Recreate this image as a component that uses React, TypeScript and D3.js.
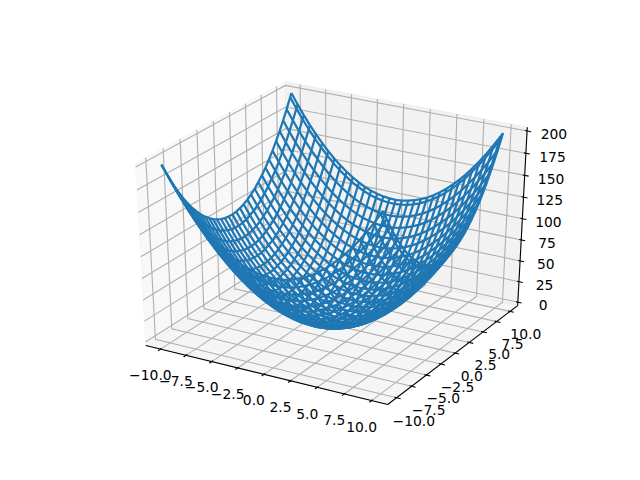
import React from "react";
import * as d3 from "d3";

const xGrid = [-10,-9.4,-8.8,-8.2,-7.6,-7,-6.4,-5.8,-5.2,-4.6,-4,-3.4,-2.8,-2.2,-1.6,-1,-0.4,0.2,0.8,1.4,2,2.6,3.2,3.8,4.4,5,5.6,6.2,6.8,7.4,8,8.6,9.2,9.8,10];
const yGrid = [-10,-9.4,-8.8,-8.2,-7.6,-7,-6.4,-5.8,-5.2,-4.6,-4,-3.4,-2.8,-2.2,-1.6,-1,-0.4,0.2,0.8,1.4,2,2.6,3.2,3.8,4.4,5,5.6,6.2,6.8,7.4,8,8.6,9.2,9.8,10];
const zRows = [
[200,188.4,177.4,167.2,157.8,149,141,133.6,127,121.2,116,111.6,107.8,104.8,102.6,101,100.2,100,100.6,102,104,106.8,110.2,114.4,119.4,125,131.4,138.4,146.2,154.8,164,174,184.6,196,200],
[188.4,176.8,165.8,155.6,146.2,137.4,129.4,122,115.4,109.6,104.4,100,96.2,93.2,91,89.4,88.6,88.4,89,90.4,92.4,95.2,98.6,102.8,107.8,113.4,119.8,126.8,134.6,143.2,152.4,162.4,173,184.4,188.4],
[177.4,165.8,154.8,144.6,135.2,126.4,118.4,111,104.4,98.6,93.4,89,85.2,82.2,80,78.4,77.6,77.4,78,79.4,81.4,84.2,87.6,91.8,96.8,102.4,108.8,115.8,123.6,132.2,141.4,151.4,162,173.4,177.4],
[167.2,155.6,144.6,134.4,125,116.2,108.2,100.8,94.2,88.4,83.2,78.8,75,72,69.8,68.2,67.4,67.2,67.8,69.2,71.2,74,77.4,81.6,86.6,92.2,98.6,105.6,113.4,122,131.2,141.2,151.8,163.2,167.2],
[157.8,146.2,135.2,125,115.6,106.8,98.8,91.4,84.8,79,73.8,69.4,65.6,62.6,60.4,58.8,58,57.8,58.4,59.8,61.8,64.6,68,72.2,77.2,82.8,89.2,96.2,104,112.6,121.8,131.8,142.4,153.8,157.8],
[149,137.4,126.4,116.2,106.8,98,90,82.6,76,70.2,65,60.6,56.8,53.8,51.6,50,49.2,49,49.6,51,53,55.8,59.2,63.4,68.4,74,80.4,87.4,95.2,103.8,113,123,133.6,145,149],
[141,129.4,118.4,108.2,98.8,90,82,74.6,68,62.2,57,52.6,48.8,45.8,43.6,42,41.2,41,41.6,43,45,47.8,51.2,55.4,60.4,66,72.4,79.4,87.2,95.8,105,115,125.6,137,141],
[133.6,122,111,100.8,91.4,82.6,74.6,67.2,60.6,54.8,49.6,45.2,41.4,38.4,36.2,34.6,33.8,33.6,34.2,35.6,37.6,40.4,43.8,48,53,58.6,65,72,79.8,88.4,97.6,107.6,118.2,129.6,133.6],
[127,115.4,104.4,94.2,84.8,76,68,60.6,54,48.2,43,38.6,34.8,31.8,29.6,28,27.2,27,27.6,29,31,33.8,37.2,41.4,46.4,52,58.4,65.4,73.2,81.8,91,101,111.6,123,127],
[121.2,109.6,98.6,88.4,79,70.2,62.2,54.8,48.2,42.4,37.2,32.8,29,26,23.8,22.2,21.4,21.2,21.8,23.2,25.2,28,31.4,35.6,40.6,46.2,52.6,59.6,67.4,76,85.2,95.2,105.8,117.2,121.2],
[116,104.4,93.4,83.2,73.8,65,57,49.6,43,37.2,32,27.6,23.8,20.8,18.6,17,16.2,16,16.6,18,20,22.8,26.2,30.4,35.4,41,47.4,54.4,62.2,70.8,80,90,100.6,112,116],
[111.6,100,89,78.8,69.4,60.6,52.6,45.2,38.6,32.8,27.6,23.2,19.4,16.4,14.2,12.6,11.8,11.6,12.2,13.6,15.6,18.4,21.8,26,31,36.6,43,50,57.8,66.4,75.6,85.6,96.2,107.6,111.6],
[107.8,96.2,85.2,75,65.6,56.8,48.8,41.4,34.8,29,23.8,19.4,15.6,12.6,10.4,8.8,8,7.8,8.4,9.8,11.8,14.6,18,22.2,27.2,32.8,39.2,46.2,54,62.6,71.8,81.8,92.4,103.8,107.8],
[104.8,93.2,82.2,72,62.6,53.8,45.8,38.4,31.8,26,20.8,16.4,12.6,9.6,7.4,5.8,5,4.8,5.4,6.8,8.8,11.6,15,19.2,24.2,29.8,36.2,43.2,51,59.6,68.8,78.8,89.4,100.8,104.8],
[102.6,91,80,69.8,60.4,51.6,43.6,36.2,29.6,23.8,18.6,14.2,10.4,7.4,5.2,3.6,2.8,2.6,3.2,4.6,6.6,9.4,12.8,17,22,27.6,34,41,48.8,57.4,66.6,76.6,87.2,98.6,102.6],
[101,89.4,78.4,68.2,58.8,50,42,34.6,28,22.2,17,12.6,8.8,5.8,3.6,2,1.2,1,1.6,3,5,7.8,11.2,15.4,20.4,26,32.4,39.4,47.2,55.8,65,75,85.6,97,101],
[100.2,88.6,77.6,67.4,58,49.2,41.2,33.8,27.2,21.4,16.2,11.8,8,5,2.8,1.2,0.4,0.2,0.8,2.2,4.2,7,10.4,14.6,19.6,25.2,31.6,38.6,46.4,55,64.2,74.2,84.8,96.2,100.2],
[100,88.4,77.4,67.2,57.8,49,41,33.6,27,21.2,16,11.6,7.8,4.8,2.6,1,0.2,0,0.6,2,4,6.8,10.2,14.4,19.4,25,31.4,38.4,46.2,54.8,64,74,84.6,96,100],
[100.6,89,78,67.8,58.4,49.6,41.6,34.2,27.6,21.8,16.6,12.2,8.4,5.4,3.2,1.6,0.8,0.6,1.2,2.6,4.6,7.4,10.8,15,20,25.6,32,39,46.8,55.4,64.6,74.6,85.2,96.6,100.6],
[102,90.4,79.4,69.2,59.8,51,43,35.6,29,23.2,18,13.6,9.8,6.8,4.6,3,2.2,2,2.6,4,6,8.8,12.2,16.4,21.4,27,33.4,40.4,48.2,56.8,66,76,86.6,98,102],
[104,92.4,81.4,71.2,61.8,53,45,37.6,31,25.2,20,15.6,11.8,8.8,6.6,5,4.2,4,4.6,6,8,10.8,14.2,18.4,23.4,29,35.4,42.4,50.2,58.8,68,78,88.6,100,104],
[106.8,95.2,84.2,74,64.6,55.8,47.8,40.4,33.8,28,22.8,18.4,14.6,11.6,9.4,7.8,7,6.8,7.4,8.8,10.8,13.6,17,21.2,26.2,31.8,38.2,45.2,53,61.6,70.8,80.8,91.4,102.8,106.8],
[110.2,98.6,87.6,77.4,68,59.2,51.2,43.8,37.2,31.4,26.2,21.8,18,15,12.8,11.2,10.4,10.2,10.8,12.2,14.2,17,20.4,24.6,29.6,35.2,41.6,48.6,56.4,65,74.2,84.2,94.8,106.2,110.2],
[114.4,102.8,91.8,81.6,72.2,63.4,55.4,48,41.4,35.6,30.4,26,22.2,19.2,17,15.4,14.6,14.4,15,16.4,18.4,21.2,24.6,28.8,33.8,39.4,45.8,52.8,60.6,69.2,78.4,88.4,99,110.4,114.4],
[119.4,107.8,96.8,86.6,77.2,68.4,60.4,53,46.4,40.6,35.4,31,27.2,24.2,22,20.4,19.6,19.4,20,21.4,23.4,26.2,29.6,33.8,38.8,44.4,50.8,57.8,65.6,74.2,83.4,93.4,104,115.4,119.4],
[125,113.4,102.4,92.2,82.8,74,66,58.6,52,46.2,41,36.6,32.8,29.8,27.6,26,25.2,25,25.6,27,29,31.8,35.2,39.4,44.4,50,56.4,63.4,71.2,79.8,89,99,109.6,121,125],
[131.4,119.8,108.8,98.6,89.2,80.4,72.4,65,58.4,52.6,47.4,43,39.2,36.2,34,32.4,31.6,31.4,32,33.4,35.4,38.2,41.6,45.8,50.8,56.4,62.8,69.8,77.6,86.2,95.4,105.4,116,127.4,131.4],
[138.4,126.8,115.8,105.6,96.2,87.4,79.4,72,65.4,59.6,54.4,50,46.2,43.2,41,39.4,38.6,38.4,39,40.4,42.4,45.2,48.6,52.8,57.8,63.4,69.8,76.8,84.6,93.2,102.4,112.4,123,134.4,138.4],
[146.2,134.6,123.6,113.4,104,95.2,87.2,79.8,73.2,67.4,62.2,57.8,54,51,48.8,47.2,46.4,46.2,46.8,48.2,50.2,53,56.4,60.6,65.6,71.2,77.6,84.6,92.4,101,110.2,120.2,130.8,142.2,146.2],
[154.8,143.2,132.2,122,112.6,103.8,95.8,88.4,81.8,76,70.8,66.4,62.6,59.6,57.4,55.8,55,54.8,55.4,56.8,58.8,61.6,65,69.2,74.2,79.8,86.2,93.2,101,109.6,118.8,128.8,139.4,150.8,154.8],
[164,152.4,141.4,131.2,121.8,113,105,97.6,91,85.2,80,75.6,71.8,68.8,66.6,65,64.2,64,64.6,66,68,70.8,74.2,78.4,83.4,89,95.4,102.4,110.2,118.8,128,138,148.6,160,164],
[174,162.4,151.4,141.2,131.8,123,115,107.6,101,95.2,90,85.6,81.8,78.8,76.6,75,74.2,74,74.6,76,78,80.8,84.2,88.4,93.4,99,105.4,112.4,120.2,128.8,138,148,158.6,170,174],
[184.6,173,162,151.8,142.4,133.6,125.6,118.2,111.6,105.8,100.6,96.2,92.4,89.4,87.2,85.6,84.8,84.6,85.2,86.6,88.6,91.4,94.8,99,104,109.6,116,123,130.8,139.4,148.6,158.6,169.2,180.6,184.6],
[196,184.4,173.4,163.2,153.8,145,137,129.6,123,117.2,112,107.6,103.8,100.8,98.6,97,96.2,96,96.6,98,100,102.8,106.2,110.4,115.4,121,127.4,134.4,142.2,150.8,160,170,180.6,192,196],
[200,188.4,177.4,167.2,157.8,149,141,133.6,127,121.2,116,111.6,107.8,104.8,102.6,101,100.2,100,100.6,102,104,106.8,110.2,114.4,119.4,125,131.4,138.4,146.2,154.8,164,174,184.6,196,200],
];
const xTicks = [-10,-7.5,-5,-2.5,0,2.5,5,7.5,10];
const yTicks = [-10,-7.5,-5,-2.5,0,2.5,5,7.5,10];
const zTicks = [0,25,50,75,100,125,150,175,200];
const xLim: [number, number] = [-11, 11];
const yLim: [number, number] = [-11, 11];
const zLim: [number, number] = [0, 200];

const BLUE = "#1f77b4";
const ELEV = (30 * Math.PI) / 180;
const AZIM = (-60 * Math.PI) / 180;
const DIST = 10;
const BOX = [1, 1, 1];

type V3 = [number, number, number];
const norm = (a: V3): V3 => {
  const l = Math.hypot(a[0], a[1], a[2]);
  return [a[0] / l, a[1] / l, a[2] / l];
};
const cross = (a: V3, b: V3): V3 => [
  a[1] * b[2] - a[2] * b[1],
  a[2] * b[0] - a[0] * b[2],
  a[0] * b[1] - a[1] * b[0],
];
const dot = (a: V3, b: V3) => a[0] * b[0] + a[1] * b[1] + a[2] * b[2];

const worldX = d3.scaleLinear().domain(xLim).range([0, BOX[0]]);
const worldY = d3.scaleLinear().domain(yLim).range([0, BOX[1]]);
const worldZ = d3.scaleLinear().domain(zLim).range([0, BOX[2]]);
const centre: V3 = [BOX[0] / 2, BOX[1] / 2, BOX[2] / 2];
const eye: V3 = [
  centre[0] + Math.cos(ELEV) * Math.cos(AZIM) * DIST,
  centre[1] + Math.cos(ELEV) * Math.sin(AZIM) * DIST,
  centre[2] + Math.sin(ELEV) * DIST,
];
const n = norm([eye[0] - centre[0], eye[1] - centre[1], eye[2] - centre[2]]);
const u = norm(cross([0, 0, 1], n));
const v = cross(n, u);

const pxX = d3.scaleLinear().domain([-0.95 / DIST, 0.9 / DIST]).range([80, 576]);
const pxY = d3.scaleLinear().domain([-0.95 / DIST, 0.9 / DIST]).range([427.2, 57.6]);

const project = (x: number, y: number, z: number): [number, number] => {
  const p: V3 = [worldX(x) - eye[0], worldY(y) - eye[1], worldZ(z) - eye[2]];
  const w = -dot(p, n);
  return [pxX(dot(p, u) / w), pxY(dot(p, v) / w)];
};

const span = (l: [number, number]) => l[1] - l[0];
const dx = span(xLim) / 12;
const dy = span(yLim) / 12;
const dz = span(zLim) / 12;
const x0 = xLim[0] - dx / 4, x1 = xLim[1] + dx / 4;
const y0 = yLim[0] - dy / 4, y1 = yLim[1] + dy / 4;
const z0 = zLim[0] - dz / 4, z1 = zLim[1] + dz / 4;
const LABEL = (11.5 * 48) / (72 * (4.96 + 3.696));

const line = d3.line<V3>().x((p) => project(...p)[0]).y((p) => project(...p)[1]);
const poly = (pts: V3[]) => line(pts) + "Z";

const GRID = "rgb(176,176,176)";
const sw = 0.8 * (100 / 72);

const wires: V3[][] = [
  ...yGrid.map((y, i) => xGrid.map((x, j) => [x, y, zRows[i][j]] as V3)),
  ...xGrid.map((x, j) => yGrid.map((y, i) => [x, y, zRows[i][j]] as V3)),
];

const fmt = (t: number) => t.toFixed(1).replace("-", "\u2212");

export default function App() {
  const Label = ({ p, s, ox, oy }: { p: V3; s: string; ox: number; oy: number }) => {
    const [a, b] = project(...p);
    return (
      <text x={a + ox} y={b + 3.6 + oy} textAnchor="middle" fontFamily="DejaVu Sans" fontSize={13.89} fill="#000">
        {s}
      </text>
    );
  };
  return (
    <svg width={640} height={480} style={{ position: "fixed", left: 0, top: 0, background: "#fff" }}>
      <path d={poly([[x0, y0, z0], [x0, y1, z0], [x0, y1, z1], [x0, y0, z1]])} fill="rgb(242,242,242)" fillOpacity={0.5} stroke="rgb(242,242,242)" strokeOpacity={0.5} strokeWidth={1} />
      <path d={poly([[x0, y1, z0], [x1, y1, z0], [x1, y1, z1], [x0, y1, z1]])} fill="rgb(230,230,230)" fillOpacity={0.5} stroke="rgb(230,230,230)" strokeOpacity={0.5} strokeWidth={1} />
      <path d={poly([[x0, y0, z0], [x1, y0, z0], [x1, y1, z0], [x0, y1, z0]])} fill="rgb(236,236,236)" fillOpacity={0.5} stroke="rgb(236,236,236)" strokeOpacity={0.5} strokeWidth={1} />
      <g fill="none" stroke={GRID} strokeWidth={sw}>
        {xTicks.map((t) => <path key={"gx" + t} d={line([[t, y0, z0], [t, y1, z0], [t, y1, z1]])!} />)}
        {yTicks.map((t) => <path key={"gy" + t} d={line([[x1, t, z0], [x0, t, z0], [x0, t, z1]])!} />)}
        {zTicks.map((t) => <path key={"gz" + t} d={line([[x0, y0, t], [x0, y1, t], [x1, y1, t]])!} />)}
      </g>
      <g fill="none" stroke="#000" strokeWidth={sw}>
        <path d={line([[x0, y0, z0], [x1, y0, z0]])!} />
        <path d={line([[x1, y0, z0], [x1, y1, z0]])!} />
        <path d={line([[x1, y1, z0], [x1, y1, z1]])!} />
        {xTicks.map((t) => <path key={"tx" + t} d={line([[t, y0 + 0.1 * dy, z0], [t, y0 - 0.2 * dy, z0]])!} />)}
        {yTicks.map((t) => <path key={"ty" + t} d={line([[x1 - 0.1 * dx, t, z0], [x1 + 0.2 * dx, t, z0]])!} />)}
        {zTicks.map((t) => <path key={"tz" + t} d={line([[x1 - 0.1 * dx, y1, t], [x1 + 0.2 * dx, y1, t]])!} />)}
      </g>
      {xTicks.map((t) => <Label key={"lx" + t} ox={2.5} oy={6} p={[t, y0 - 0.2 * dy - LABEL * dy, z0 - LABEL * dz]} s={fmt(t)} />)}
      {yTicks.map((t) => <Label key={"ly" + t} ox={-4.5} oy={7} p={[x1 + 0.2 * dx + LABEL * dx, t, z0 - LABEL * dz]} s={fmt(t)} />)}
      {zTicks.map((t) => <Label key={"lz" + t} ox={-4} oy={6.5} p={[x1 + 0.2 * dx + LABEL * dx, y1 + LABEL * dy, t]} s={String(t)} />)}
      <g fill="none" stroke={BLUE} strokeWidth={2.25}>
        {wires.map((w, i) => <path key={i} d={line(w)!} />)}
      </g>
    </svg>
  );
}
